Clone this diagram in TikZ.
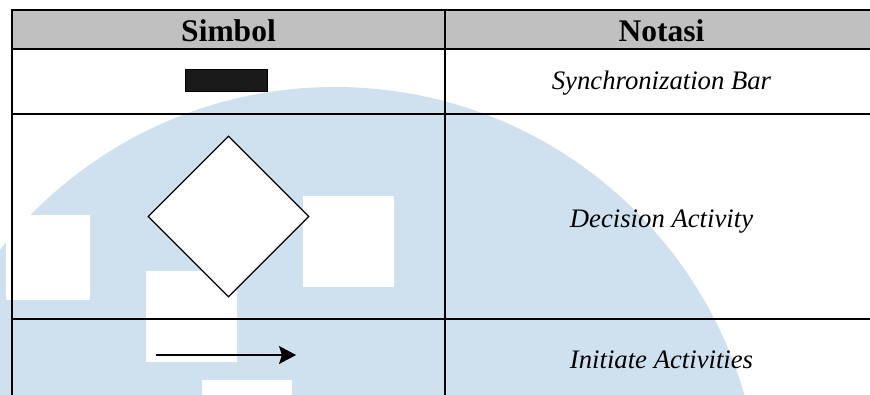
\documentclass[tikz,border=0pt]{standalone}
\usepackage{fontspec}
\setmainfont{Liberation Serif}
\usetikzlibrary{shapes.geometric,arrows.meta}
\definecolor{wmblue}{RGB}{207,224,239}
\definecolor{hdrgray}{RGB}{192,192,192}
\definecolor{barblack}{RGB}{26,26,26}
\tikzset{
  gridline/.style={line width=1.6pt, black},
  hdrtext/.style={font=\fontsize{31.5}{36}\selectfont\bfseries, inner sep=0pt, anchor=base},
  celltext/.style={font=\fontsize{26.7}{32}\selectfont\itshape, inner sep=0pt, anchor=base},
  wmsquare/.style={fill=white, draw=none},
}
\begin{document}
\begin{tikzpicture}[x=1pt,y=-1pt]
\useasboundingbox (0,0) rectangle (870,394);
\clip (0,0) rectangle (870,394);
\fill[white] (0,0) rectangle (870,394);
% watermark
\fill[wmblue] (335,513) circle (426);
\fill[wmsquare] (6,215) rectangle (90,300);
\fill[wmsquare] (146,271) rectangle (237,362);
\fill[wmsquare] (303,196) rectangle (394,287);
\fill[wmsquare] (202,380) rectangle (292,400);
% header
\fill[hdrgray] (12,10) rectangle (880,49);
% grid
\draw[gridline] (12,10) -- (880,10);
\draw[gridline] (12,49) -- (880,49);
\draw[gridline] (12,114) -- (880,114);
\draw[gridline] (12,319) -- (880,319);
\draw[gridline] (12,9.2) -- (12,400);
\draw[gridline] (445,9.2) -- (445,400);
% header texts
\node[hdrtext] (hsym) at (228.5,41) {Simbol};
\node[hdrtext] (hnot) at (661.5,41) {Notasi};
% row 1
\node[draw=black, line width=0.7pt, fill=barblack, minimum width=82pt, minimum height=22pt, inner sep=0pt] (bar) at (226,80) {};
\node[celltext] (t1) at (661.5,89) {Synchronization Bar};
% row 2
\node[diamond, draw=black, line width=1.2pt, fill=white, minimum width=161pt, minimum height=161pt, inner sep=0pt] (dec) at (228.5,216.5) {};
\node[celltext] (t2) at (661.5,227) {Decision Activity};
% row 3
\coordinate (as) at (156,355);
\coordinate (ae) at (296,355);
\draw[line width=1.1pt, -{Stealth[length=17pt,width=18pt,inset=3pt]}] (as) -- (ae);
\node[celltext] (t3) at (661.5,368) {Initiate Activities};
\end{tikzpicture}
\end{document}
